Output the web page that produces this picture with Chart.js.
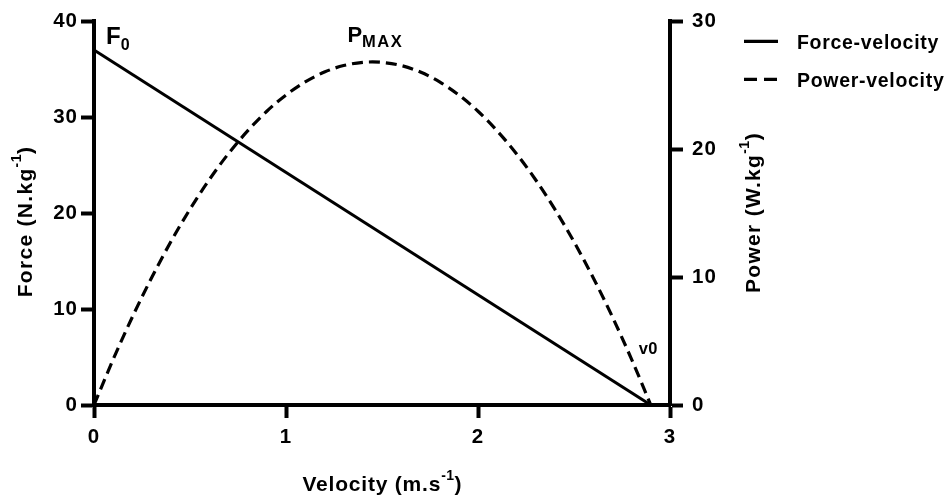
<!DOCTYPE html>
<html>
<head>
<meta charset="utf-8">
<script src="https://cdn.jsdelivr.net/npm/chart.js@4.4.1/dist/chart.umd.min.js"></script>
<style>
  html, body { margin: 0; padding: 0; background: #fff; }
</style>
</head>
<body>
<canvas id="chart-canvas" width="952" height="497"></canvas>
<script>
// force-velocity profile (straight line from F0 down to v0)
const forceVelocity = [0, 2.9];
const forceValues = [37, 0];

// power-velocity curve
const powerVelocity = [0, 0.1, 0.2, 0.3, 0.4, 0.5, 0.6, 0.7, 0.8, 0.9, 1.0, 1.1, 1.2, 1.3, 1.4, 1.45,
  1.5, 1.6, 1.7, 1.8, 1.9, 2.0, 2.1, 2.2, 2.3, 2.4, 2.5, 2.6, 2.7, 2.8, 2.9];
const powerValues = [0, 3.57, 6.89, 9.95, 12.76, 15.31, 17.61, 19.65, 21.43, 22.97, 24.24, 25.26, 26.03, 26.54, 26.79, 26.82,
  26.79, 26.54, 26.03, 25.26, 24.24, 22.97, 21.43, 19.65, 17.61, 15.31, 12.76, 9.95, 6.89, 3.57, 0];

const velocityTicks = [0, 1, 2, 3];
const forceTicks = [0, 10, 20, 30, 40];
const powerTicks = [0, 10, 20, 30];

const FAMILY = "'Liberation Sans', Arial, Helvetica, sans-serif";
const TICK_FONT = { family: FAMILY, size: 20.5, weight: "bold" };

const toPoints = (xs, ys) => xs.map((x, i) => ({ x: x, y: ys[i] }));
const fixedTicks = (values) => (scale) => {
  scale.ticks = values.map((v) => ({ value: v }));
};

// draws a row of text runs (for sub/superscripts)
function drawRuns(ctx, runs, x, y, align) {
  let total = 0;
  for (const r of runs) {
    ctx.font = `${r.weight || "bold"} ${r.size}px ${FAMILY}`;
    ctx.letterSpacing = (r.ls || 0) + "px";
    r.w = ctx.measureText(r.text).width;
    total += r.w;
  }
  let cx = align === "center" ? x - total / 2 : x;
  for (const r of runs) {
    ctx.font = `${r.weight || "bold"} ${r.size}px ${FAMILY}`;
    ctx.letterSpacing = (r.ls || 0) + "px";
    ctx.fillText(r.text, cx, y + (r.dy || 0));
    cx += r.w;
  }
}

const axisTitle = (text) => [
  { text: text, size: 21, ls: 1.3 },
  { text: "-1", size: 14, dy: -11, ls: 0.5 },
  { text: ")", size: 21 }
];

const textPlugin = {
  id: "textPlugin",
  beforeDraw(chart) {
    chart.ctx.letterSpacing = "1px";
  },
  afterDraw(chart) {
    const ctx = chart.ctx;
    const area = chart.chartArea;
    const xs = chart.scales.x;
    const ys = chart.scales.y;
    const ps = chart.scales.y1;
    ctx.save();
    ctx.fillStyle = "#000";
    ctx.textAlign = "left";
    ctx.textBaseline = "alphabetic";

    // axis titles
    drawRuns(ctx, [
      { text: "Velocity (m.s", size: 21, ls: 0.8 },
      { text: "-1", size: 14, dy: -11, ls: 0.5 },
      { text: ")", size: 21 }
    ], (area.left + area.right) / 2, 491, "center");

    ctx.save();
    ctx.translate(32, (area.top + area.bottom) / 2 + 9);
    ctx.rotate(-Math.PI / 2);
    drawRuns(ctx, axisTitle("Force (N.kg"), 0, 0, "center");
    ctx.restore();

    ctx.save();
    ctx.translate(760, (area.top + area.bottom) / 2);
    ctx.rotate(-Math.PI / 2);
    drawRuns(ctx, axisTitle("Power (W.kg"), 0, 0, "center");
    ctx.restore();

    // point labels
    const fx = xs.getPixelForValue(forceVelocity[0]);
    const fy = ys.getPixelForValue(forceValues[0]);
    drawRuns(ctx, [
      { text: "F", size: 24 },
      { text: "0", size: 16, dy: 6.5 }
    ], fx + 12, fy - 6.5, "left");

    let iMax = 0;
    powerValues.forEach((v, i) => { if (v > powerValues[iMax]) iMax = i; });
    const px = xs.getPixelForValue(powerVelocity[iMax]);
    const py = ps.getPixelForValue(powerValues[iMax]);
    drawRuns(ctx, [
      { text: "P", size: 22 },
      { text: "MAX", size: 16.5, dy: 5, ls: 1.5 }
    ], px - 25, py - 20, "left");

    const vx = xs.getPixelForValue(forceVelocity[1]);
    const vy = ys.getPixelForValue(forceValues[1]);
    drawRuns(ctx, [{ text: "v0", size: 16.5, ls: 0.3 }], vx - 12, vy - 51, "left");

    // legend
    const lx = area.right + 74;
    chart.data.datasets.forEach((ds, i) => {
      const ly = area.top + 20 + i * 38;
      ctx.save();
      ctx.strokeStyle = "#000";
      ctx.lineWidth = 3.2;
      ctx.setLineDash(ds.borderDash && ds.borderDash.length ? [13, 7] : []);
      ctx.beginPath();
      ctx.moveTo(lx, ly);
      ctx.lineTo(lx + 34, ly);
      ctx.stroke();
      ctx.restore();
      drawRuns(ctx, [{ text: ds.label, size: 19.5, ls: 0.7 }], lx + 53, ly + 7.5, "left");
    });

    ctx.restore();
  }
};

const axisStyle = {
  border: { display: true, color: "#000", width: 4 },
  grid: { drawOnChartArea: false, drawTicks: true, tickLength: 13, tickWidth: 4, tickColor: "#000" },
  title: { display: false }
};

const config = {
  type: "line",
  data: {
    datasets: [
      {
        label: "Force-velocity",
        data: toPoints(forceVelocity, forceValues),
        yAxisID: "y",
        borderColor: "#000",
        borderWidth: 3,
        pointRadius: 0,
        fill: false
      },
      {
        label: "Power-velocity",
        data: toPoints(powerVelocity, powerValues),
        yAxisID: "y1",
        borderColor: "#000",
        borderWidth: 3.2,
        borderDash: [11, 6],
        cubicInterpolationMode: "monotone",
        pointRadius: 0,
        fill: false
      }
    ]
  },
  options: {
    responsive: false,
    animation: false,
    devicePixelRatio: 1,
    layout: { padding: { top: 21, left: 0, right: 0, bottom: 0 } },
    plugins: {
      legend: { display: false },
      tooltip: { enabled: false }
    },
    scales: {
      x: {
        ...axisStyle,
        type: "linear",
        min: 0,
        max: 3,
        afterBuildTicks: fixedTicks(velocityTicks),
        afterFit: (s) => { s.height = 92; },
        ticks: { color: "#000", padding: 7, font: TICK_FONT }
      },
      y: {
        ...axisStyle,
        position: "left",
        min: 0,
        max: 40,
        afterBuildTicks: fixedTicks(forceTicks),
        afterFit: (s) => { s.width = 94; },
        ticks: { color: "#000", padding: 3, font: TICK_FONT }
      },
      y1: {
        ...axisStyle,
        position: "right",
        min: 0,
        max: 30,
        afterBuildTicks: fixedTicks(powerTicks),
        afterFit: (s) => { s.width = 282; },
        ticks: { color: "#000", padding: 9, font: TICK_FONT }
      }
    }
  },
  plugins: [textPlugin]
};

const myChart = new Chart(document.getElementById("chart-canvas"), config);
</script>
</body>
</html>
